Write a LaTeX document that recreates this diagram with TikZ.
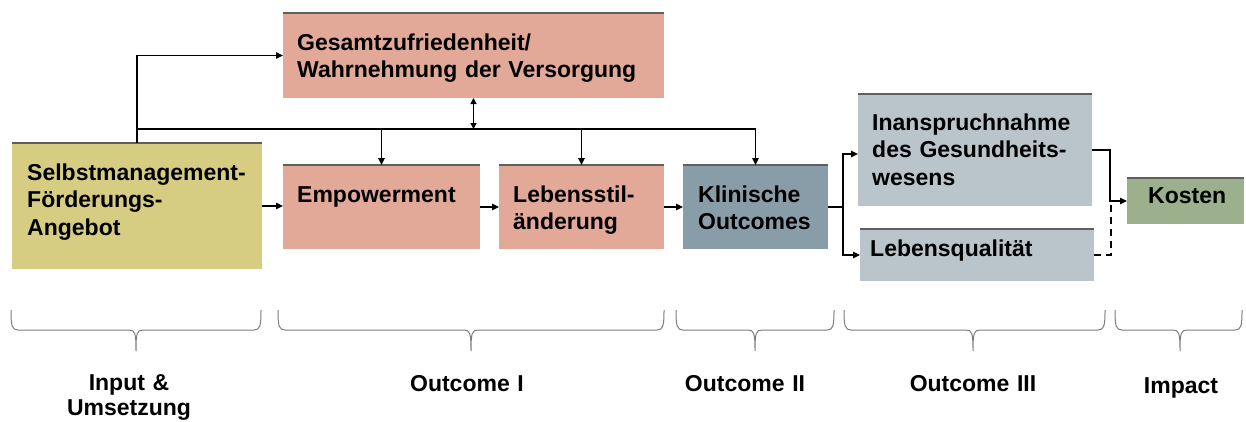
\documentclass[tikz,border=0pt]{standalone}
\usepackage{fontspec}
\setmainfont{Liberation Sans}
\usetikzlibrary{arrows.meta,calc}
\definecolor{cSelf}{RGB}{214,204,130}
\definecolor{cSalmon}{RGB}{226,168,152}
\definecolor{cKlin}{RGB}{137,157,168}
\definecolor{cLight}{RGB}{185,197,203}
\definecolor{cKost}{RGB}{157,176,141}
\definecolor{cTop}{RGB}{95,95,95}
\definecolor{cBrace}{RGB}{125,125,125}
\newcommand\mybrace[3]{%
  \draw[bracepath] (#1,310) .. controls (#1,326) and (#1+1,330) .. (#1+7,330)
    -- (#3-7,330) .. controls (#3-1,330) and (#3,333) .. (#3,351)
    .. controls (#3,333) and (#3+1,330) .. (#3+7,330)
    -- (#2-7,330) .. controls (#2-1,330) and (#2,326) .. (#2,310);}
\begin{document}
\begin{tikzpicture}[x=1pt,y=-1pt,
  box/.style={anchor=north west, inner sep=0pt, outer sep=0pt, draw=none},
  topline/.style={draw=cTop, line width=1.3pt},
  txt/.style={anchor=base west, inner sep=0pt, font=\fontsize{23}{27.5}\selectfont\bfseries, text width=#1, align=left},
  lbl/.style={anchor=base, inner sep=0pt, font=\fontsize{23}{25}\selectfont\bfseries, text width=200pt, align=center},
  conn/.style={line width=1.4pt, draw=black},
  arr/.style={conn, -{Triangle[length=7pt,width=6.5pt]}},
  darr/.style={conn, {Triangle[length=6pt,width=6pt]}-{Triangle[length=6pt,width=6pt]}},
  bracepath/.style={draw=cBrace, line width=1pt}]
\useasboundingbox (0,0) rectangle (1246,421);
\fill[white] (0,0) rectangle (1246,421);

% boxes
\node[box, fill=cSelf,   minimum width=250pt, minimum height=126pt] (selbst) at (12,143) {};
\node[box, fill=cSalmon, minimum width=381pt, minimum height=85pt]  (gesamt) at (283,13) {};
\node[box, fill=cSalmon, minimum width=197pt, minimum height=84pt]  (emp)    at (283,165) {};
\node[box, fill=cSalmon, minimum width=165pt, minimum height=84pt]  (leb)    at (499,165) {};
\node[box, fill=cKlin,   minimum width=145pt, minimum height=84pt]  (klin)   at (683,165) {};
\node[box, fill=cLight,  minimum width=234pt, minimum height=112pt] (inan)   at (858,94) {};
\node[box, fill=cLight,  minimum width=234pt, minimum height=52pt]  (lq)     at (860,229) {};
\node[box, fill=cKost,   minimum width=117pt, minimum height=46pt]  (kosten) at (1127,178) {};

\foreach \b in {selbst,gesamt,emp,leb,klin,inan,lq,kosten}
  \draw[topline] (\b.north west) -- (\b.north east);

% texts
\node[txt=240pt] (tselbst) at (27,180) {Selbstmanagement-\\Förderungs-\\Angebot};
\node[txt=370pt] (tgesamt) at (297,50) {Gesamtzufriedenheit/\\Wahrnehmung der Versorgung};
\node[txt=180pt] (temp) at (297,202) {Empowerment};
\node[txt=160pt] (tleb) at (513,202) {Lebensstil-\\änderung};
\node[txt=140pt] (tklin) at (698,202) {Klinische\\Outcomes};
\node[txt=230pt] (tinan) at (872,130) {Inanspruchnahme\\des Gesundheits-\\wesens};
\node[txt=230pt] (tlq) at (870,256) {Lebensqualität};
\node[txt=110pt] (tkosten) at (1148,203) {Kosten};

% connectors
\coordinate (bus) at (selbst.north |- 0,129);
\draw[arr] (selbst.north) |- (gesamt.west);
\draw[conn] (bus) -- (bus -| klin.north);
\draw[arr] (bus -| emp.north) -- (emp.north);
\draw[arr] (bus -| leb.north) -- (leb.north);
\draw[arr] (bus -| klin.north) -- (klin.north);
\draw[darr] (gesamt.south) -- (gesamt.south |- bus);
\draw[arr] (selbst.east) -- (selbst.east -| emp.west);
\draw[arr] (emp.east) -- (emp.east -| leb.west);
\draw[arr] (leb.east) -- (leb.east -| klin.west);
\coordinate (split) at (843,207);
\draw[conn] (klin.east) -- (split);
\draw[arr] (split) |- ($(inan.west)+(0,4)$);
\draw[arr] (split) |- (lq.west);
\coordinate (kj) at (1110,201);
\draw[arr] (inan.east) -| (kj) -- (kosten.west);
\coordinate (kd) at (1111,203);
\draw[conn, dash pattern=on 7pt off 5pt] (lq.east) -| (kd);

% braces
\mybrace{11}{261}{136}
\mybrace{278}{664}{471}
\mybrace{676}{834}{755}
\mybrace{844}{1105}{973}
\mybrace{1115}{1242}{1180}

% labels
\node[lbl] (linput) at (129,390) {Input \&\\Umsetzung};
\node[lbl] (lo1) at (467,391) {Outcome I};
\node[lbl] (lo2) at (745,391) {Outcome II};
\node[lbl] (lo3) at (973,391) {Outcome III};
\node[lbl] (limp) at (1181,393) {Impact};
\end{tikzpicture}
\end{document}
